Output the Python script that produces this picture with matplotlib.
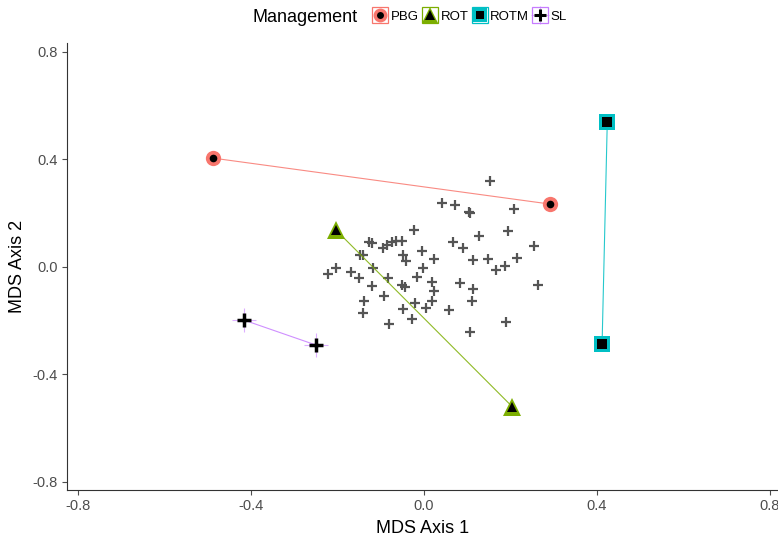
import matplotlib
matplotlib.use('Agg')
from matplotlib import pyplot
from matplotlib.lines import Line2D

# site scores (gray crosses)
site_x = [0.153, 0.041, 0.072, 0.103, 0.106, 0.209, -0.023, 0.194, 0.127, 0.068,
          0.090, 0.255, -0.127, -0.121, -0.094, -0.086, -0.075, -0.065, -0.052, -0.048,
          -0.005, -0.148, -0.142, 0.023, 0.114, 0.147, 0.215, 0.167, 0.188, 0.083,
          0.114, 0.112, 0.263, 0.058, 0.190, 0.106, -0.204, -0.222, -0.170, -0.150,
          -0.117, -0.121, -0.084, -0.093, -0.052, -0.044, -0.042, -0.003, -0.017, 0.018,
          0.022, -0.138, -0.141, -0.021, 0.018, 0.005, -0.048, -0.028, -0.080]
site_y = [0.319, 0.236, 0.229, 0.204, 0.201, 0.214, 0.136, 0.133, 0.114, 0.093,
          0.068, 0.078, 0.091, 0.087, 0.068, 0.081, 0.093, 0.096, 0.096, 0.043,
          0.058, 0.043, 0.043, 0.030, 0.025, 0.028, 0.033, -0.012, 0.003, -0.059,
          -0.084, -0.128, -0.068, -0.161, -0.204, -0.242, -0.004, -0.028, -0.019, -0.043,
          -0.004, -0.072, -0.041, -0.108, -0.068, -0.074, 0.021, -0.006, -0.037, -0.056,
          -0.090, -0.128, -0.171, -0.136, -0.128, -0.155, -0.157, -0.196, -0.213]

# management centroids (two per group, joined by a line)
groups = ['PBG', 'ROT', 'ROTM', 'SL']
group_x = {'PBG': [-0.488, 0.292], 'ROT': [-0.204, 0.204], 'ROTM': [0.424, 0.412], 'SL': [-0.417, -0.250]}
group_y = {'PBG': [0.404, 0.233], 'ROT': [0.137, -0.520], 'ROTM': [0.538, -0.287], 'SL': [-0.198, -0.291]}

COLORS = {'PBG': '#F8766D', 'ROT': '#7CAE00', 'ROTM': '#00BFC4', 'SL': '#C77CFF'}
MARKERS = {'PBG': 'o', 'ROT': '^', 'ROTM': 's', 'SL': '+'}
BIG_SIZE = {'PBG': 11, 'ROT': 13, 'ROTM': 11, 'SL': 17}
SMALL_SIZE = {'PBG': 5.5, 'ROT': 7, 'ROTM': 6.5, 'SL': 10}

pyplot.rcParams['font.family'] = ['Liberation Sans', 'DejaVu Sans']

fig = pyplot.figure(figsize=(7.78, 5.40), dpi=100)
ax = fig.add_axes([67 / 778, 50 / 540, 1 - 67 / 778, 447 / 540])

ax.plot(site_x, site_y, linestyle='none', marker='+', markersize=7, markeredgewidth=1.6,
        color='#555555', zorder=2)

handles = []
for g in groups:
    ax.plot(group_x[g], group_y[g], color=COLORS[g], linewidth=0.8, alpha=0.85, zorder=3)
    if g == 'SL':
        ax.plot(group_x[g], group_y[g], linestyle='none', marker='+', markersize=BIG_SIZE[g],
                markeredgewidth=0.8, color=COLORS[g], alpha=0.6, zorder=4)
        ax.plot(group_x[g], group_y[g], linestyle='none', marker='+', markersize=SMALL_SIZE[g],
                markeredgewidth=2.5, color='black', zorder=5)
        big = Line2D([], [], linestyle='none', marker='+', markersize=13, markeredgewidth=0.8,
                     color=COLORS[g], alpha=0.6)
        small = Line2D([], [], linestyle='none', marker='+', markersize=9, markeredgewidth=2.2, color='black')
    else:
        ax.plot(group_x[g], group_y[g], linestyle='none', marker=MARKERS[g], markersize=BIG_SIZE[g],
                color=COLORS[g], markeredgewidth=0, zorder=4)
        ax.plot(group_x[g], group_y[g], linestyle='none', marker=MARKERS[g], markersize=SMALL_SIZE[g],
                color='black', markeredgewidth=0, zorder=5)
        big = Line2D([], [], linestyle='none', marker=MARKERS[g], markersize=BIG_SIZE[g] - 1,
                     color=COLORS[g], markeredgewidth=0)
        small = Line2D([], [], linestyle='none', marker=MARKERS[g], markersize=SMALL_SIZE[g] - 0.5,
                       color='black', markeredgewidth=0)
    box = Line2D([], [], linestyle='none', marker='s', markersize=12, markerfacecolor='white',
                 markeredgecolor=COLORS[g], markeredgewidth=0.9)
    handles.append((box, big, small))

ax.set_xlim(-0.826, 0.819)
ax.set_ylim(-0.830, 0.832)
ax.set_xticks([-0.8, -0.4, 0.0, 0.4, 0.8])
ax.set_yticks([-0.8, -0.4, 0.0, 0.4, 0.8])
ax.set_xticklabels(['-0.8', '-0.4', '0.0', '0.4', '0.8'])
ax.set_yticklabels(['-0.8', '-0.4', '0.0', '0.4', '0.8'])
ax.tick_params(colors='#4D4D4D', labelsize=10.5, length=3.5, width=0.8, labelcolor='#4D4D4D', pad=3)
for side in ['top', 'right']:
    ax.spines[side].set_visible(False)
for side in ['left', 'bottom']:
    ax.spines[side].set_color('#333333')
    ax.spines[side].set_linewidth(0.8)

ax.set_xlabel('MDS Axis 1', fontsize=13, labelpad=5)
ax.set_ylabel('MDS Axis 2', fontsize=13, labelpad=5)

fig.text(253 / 778, 1 - 17 / 540, 'Management', fontsize=13, va='center', ha='left')
fig.legend(handles, groups, ncol=4, loc='center', bbox_to_anchor=(470 / 778, 1 - 17 / 540),
           frameon=False, fontsize=9.5, handlelength=1.1, handletextpad=0.25,
           columnspacing=0.3, borderpad=0, borderaxespad=0)

fig.savefig('out.png', dpi=100)
